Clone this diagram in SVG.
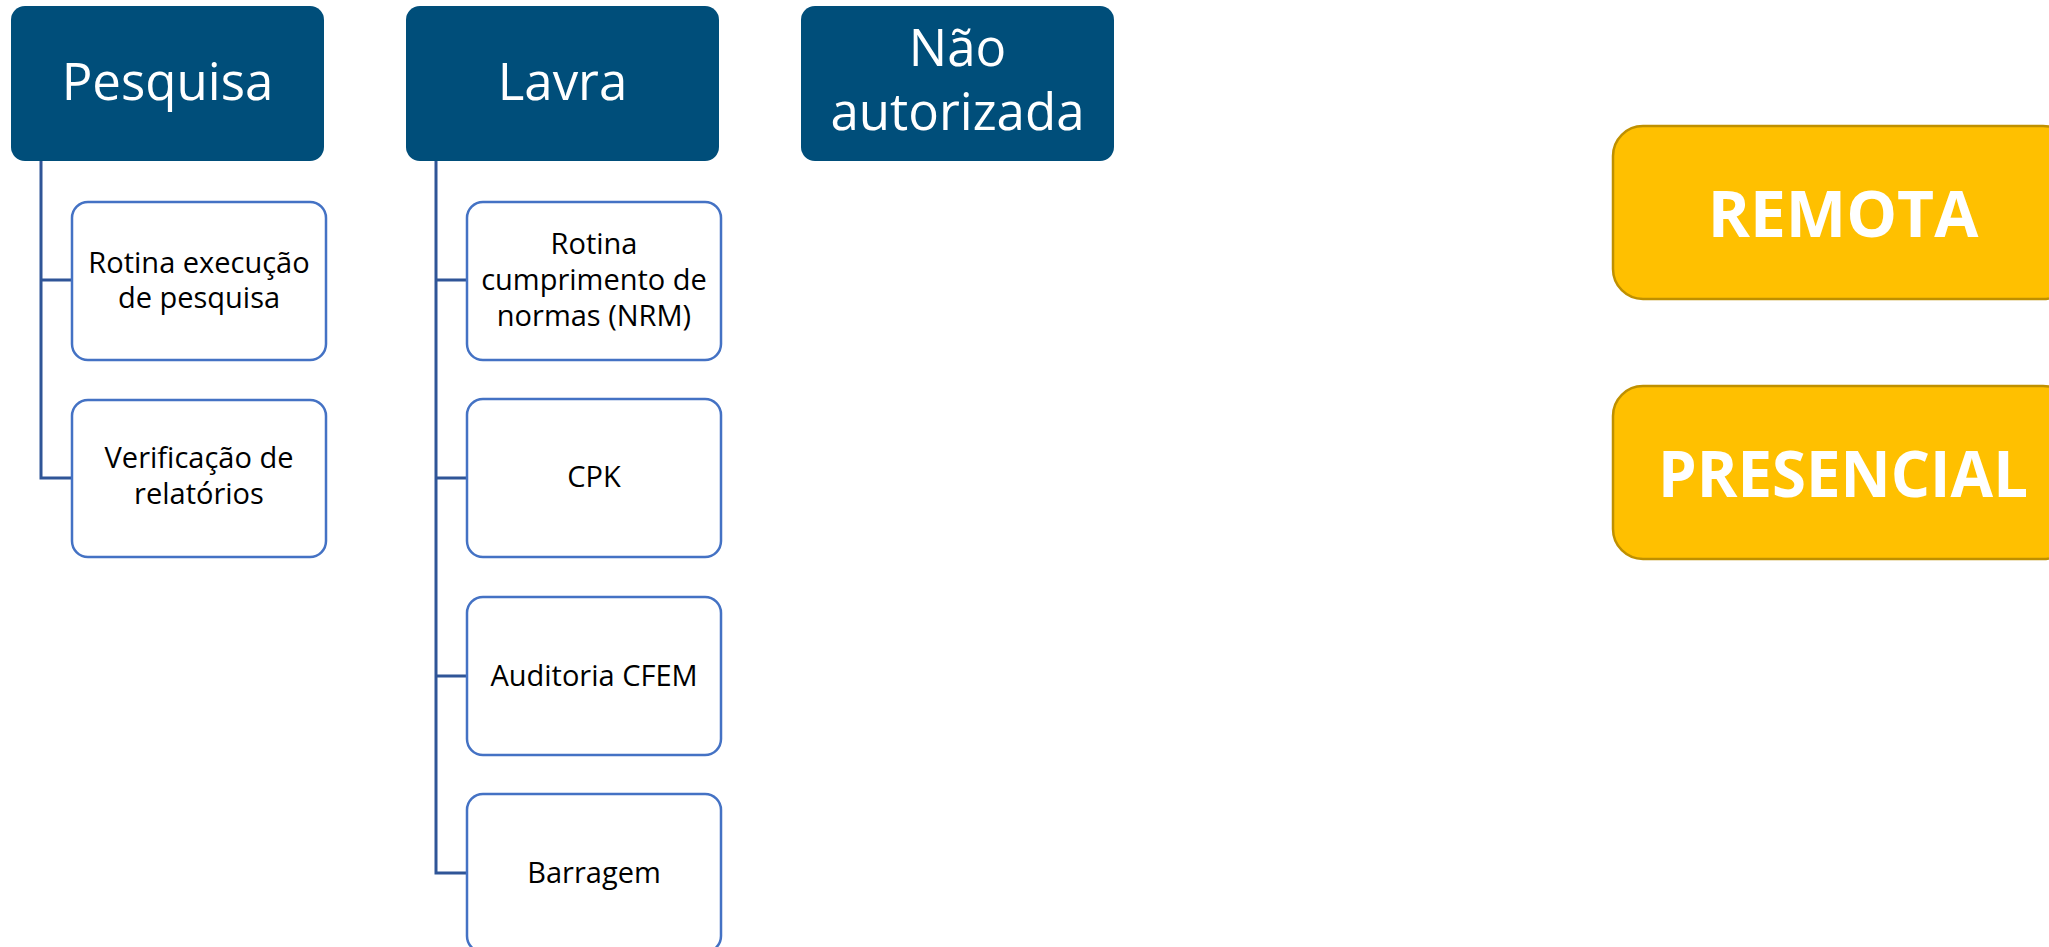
<svg xmlns="http://www.w3.org/2000/svg" width="2049" height="947" viewBox="0 0 2049 947">
<style>
.hdr{fill:#004E7A}
.hdrt{font-family:"Open Sans","Liberation Sans",sans-serif;font-size:51px;fill:#fff;text-anchor:middle}
.child{fill:#fff;stroke:#4472C4;stroke-width:2.5}
.ct{font-family:"Open Sans","Liberation Sans",sans-serif;font-size:29px;fill:#000;text-anchor:middle}
.conn{fill:none;stroke:#2F5597;stroke-width:3}
.gold{fill:#FFC000;stroke:#BF9000;stroke-width:2.5}
.gt{font-family:"Open Sans","Liberation Sans",sans-serif;font-weight:bold;font-size:64px;fill:#fff;text-anchor:middle}
</style>
<rect width="2049" height="947" fill="#fff"/>
<g id="connectors">
<path class="conn" d="M41 161 V478 H72 M41 280 H72"/>
<path class="conn" d="M436 161 V873 H467 M436 280 H467 M436 478 H467 M436 676 H467"/>
</g>
<g id="pesquisa"><rect class="hdr" x="11" y="6" width="313" height="155" rx="14"/><text class="hdrt" x="167.5" y="100">Pesquisa</text></g>
<g id="lavra"><rect class="hdr" x="406" y="6" width="313" height="155" rx="14"/><text class="hdrt" x="562.5" y="100">Lavra</text></g>
<g id="nao-autorizada"><rect class="hdr" x="801" y="6" width="313" height="155" rx="14"/><text class="hdrt" x="957.5" y="66">Não</text><text class="hdrt" x="957.5" y="130">autorizada</text></g>
<g id="rotina-execucao"><rect class="child" x="72" y="202" width="254" height="158" rx="16"/><text class="ct" x="199" y="273">Rotina execução</text><text class="ct" x="199" y="308">de pesquisa</text></g>
<g id="verificacao"><rect class="child" x="72" y="400" width="254" height="157" rx="16"/><text class="ct" x="199" y="468">Verificação de</text><text class="ct" x="199" y="504">relatórios</text></g>
<g id="rotina-cumprimento"><rect class="child" x="467" y="202" width="254" height="158" rx="16"/><text class="ct" x="594" y="254">Rotina</text><text class="ct" x="594" y="290">cumprimento de</text><text class="ct" x="594" y="326">normas (NRM)</text></g>
<g id="cpk"><rect class="child" x="467" y="399" width="254" height="158" rx="16"/><text class="ct" x="594" y="487">CPK</text></g>
<g id="auditoria"><rect class="child" x="467" y="597" width="254" height="158" rx="16"/><text class="ct" x="594" y="686">Auditoria CFEM</text></g>
<g id="barragem"><rect class="child" x="467" y="794" width="254" height="158" rx="16"/><text class="ct" x="594" y="883">Barragem</text></g>
<g id="remota"><rect class="gold" x="1613" y="126" width="460" height="173" rx="30"/><text class="gt" x="1843" y="237">REMOTA</text></g>
<g id="presencial"><rect class="gold" x="1613" y="386" width="460" height="173" rx="30"/><text class="gt" x="1843" y="497" textLength="370" lengthAdjust="spacingAndGlyphs">PRESENCIAL</text></g>
</svg>
